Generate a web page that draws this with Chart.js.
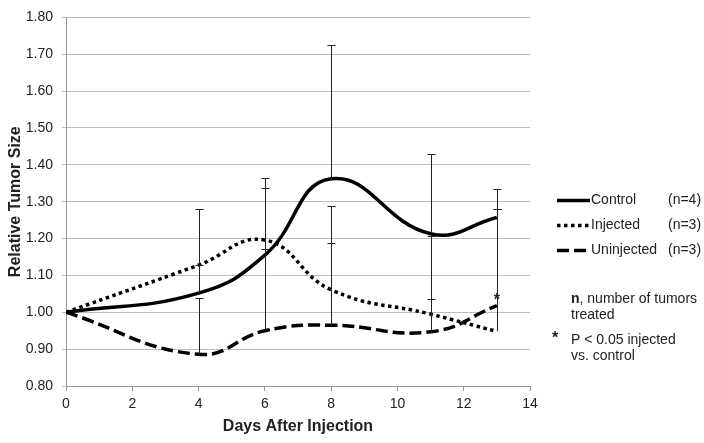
<!DOCTYPE html>
<html lang="en">
<head>
    <meta charset="UTF-8">
    <title>Relative Tumor Size</title>
    <style>
        html, body { margin: 0; padding: 0; background: #fff; }
        #wrap { width: 704px; height: 443px; }
    </style>
</head>
<body>
<div id="wrap">
    <canvas id="chart" width="704" height="443"></canvas>
</div>

<script src="https://cdn.jsdelivr.net/npm/chart.js@4/dist/chart.umd.min.js"></script>
<script>
    // days measured
    const days = [0, 4, 6, 8, 11, 13]

    // mean relative tumor size per group
    const control = [1.00, 1.052, 1.155, 1.362, 1.213, 1.257]
    const injected = [1.00, 1.128, 1.196, 1.061, 0.995, 0.948]
    const uninjected = [1.00, 0.886, 0.950, 0.965, 0.947, 1.018]

    // upper error bar lengths (null = none)
    const controlErr = [null, 0.228, 0.208, 0.364, 0.216, 0.078]
    const injectedErr = [null, 0.000, 0.142, 0.228, 0.211, 0.332]
    const uninjectedErr = [null, 0.152, 0.222, 0.222, 0.088, 0.262]

    const seriesNames = ['Control', 'Injected', 'Uninjected']
    const seriesN = ['(n=4)', '(n=3)', '(n=3)']
    const starDays = [13]

    const xTicks = [0, 2, 4, 6, 8, 10, 12, 14]
    const yTicks = ['0.80', '0.90', '1.00', '1.10', '1.20', '1.30', '1.40', '1.50', '1.60', '1.70', '1.80']

    const FONT = '"Liberation Sans", Arial, sans-serif'
    const TEXT = '#222'

    function points(values) {
        return days.map((d, i) => ({x: d, y: values[i]}))
    }

    const errors = [controlErr, injectedErr, uninjectedErr]

    const errorBars = {
        id: 'errorBars',
        afterDatasetsDraw(chart) {
            const {ctx, scales: {x, y}} = chart
            ctx.save()
            ctx.strokeStyle = '#222'
            ctx.lineWidth = 1
            errors.forEach((errs, s) => {
                const values = chart.data.datasets[s].data
                errs.forEach((e, i) => {
                    if (e === null) return
                    const px = Math.round(x.getPixelForValue(values[i].x)) + 0.5
                    const y0 = y.getPixelForValue(values[i].y)
                    const y1 = Math.round(y.getPixelForValue(values[i].y + e)) + 0.5
                    ctx.beginPath()
                    ctx.moveTo(px, y0)
                    ctx.lineTo(px, y1)
                    ctx.moveTo(px - 4, y1)
                    ctx.lineTo(px + 4, y1)
                    ctx.stroke()
                })
            })
            // significance star over the uninjected line
            ctx.fillStyle = TEXT
            ctx.font = 'bold 16px ' + FONT
            ctx.textAlign = 'center'
            ctx.textBaseline = 'middle'
            starDays.forEach(d => {
                const i = days.indexOf(d)
                ctx.fillText('*', x.getPixelForValue(d), y.getPixelForValue(uninjected[i]) - 5)
            })
            ctx.restore()
        }
    }

    const sideLegend = {
        id: 'sideLegend',
        afterDraw(chart) {
            const ctx = chart.ctx
            const rows = [200.5, 225.5, 250.5]
            ctx.save()
            chart.data.datasets.forEach((ds, i) => {
                const yy = rows[i]
                ctx.beginPath()
                ctx.strokeStyle = ds.borderColor
                ctx.lineWidth = ds.borderWidth
                ctx.setLineDash(ds.borderDash || [])
                ctx.moveTo(557, yy)
                ctx.lineTo(590, yy)
                ctx.stroke()
                ctx.setLineDash([])
                ctx.fillStyle = TEXT
                ctx.font = '14px ' + FONT
                ctx.textAlign = 'left'
                ctx.textBaseline = 'middle'
                ctx.fillText(seriesNames[i], 591, yy)
                ctx.fillText(seriesN[i], 668, yy)
            })

            ctx.fillStyle = TEXT
            ctx.textBaseline = 'middle'
            ctx.font = 'bold 14px ' + FONT
            ctx.fillText('n', 571, 299)
            const w = ctx.measureText('n').width
            ctx.font = '14px ' + FONT
            ctx.fillText(', number of tumors', 571 + w, 299)
            ctx.fillText('treated', 571, 315)

            ctx.font = 'bold 16px ' + FONT
            ctx.fillText('*', 552, 339)
            ctx.font = '14px ' + FONT
            ctx.fillText('P < 0.05 injected', 571, 340)
            ctx.fillText('vs. control', 571, 356)
            ctx.restore()
        }
    }

    const ctx = document.getElementById('chart').getContext('2d')
    const chart = new Chart(ctx, {
        type: 'line',
        data: {
            datasets: [
                {
                    label: seriesNames[0],
                    data: points(control),
                    borderColor: '#000',
                    borderWidth: 3.5,
                },
                {
                    label: seriesNames[1],
                    data: points(injected),
                    borderColor: '#000',
                    borderWidth: 3.5,
                    borderDash: [3.5, 3.5],
                },
                {
                    label: seriesNames[2],
                    data: points(uninjected),
                    borderColor: '#000',
                    borderWidth: 3.5,
                    borderDash: [12, 5],
                },
            ],
        },
        options: {
            responsive: false,
            animation: false,
            events: [],
            elements: {
                line: {tension: 0.45, fill: false, borderCapStyle: 'butt'},
                point: {radius: 0},
            },
            layout: {
                padding: {left: 0, top: 11, right: 174, bottom: 0},
            },
            plugins: {
                legend: {display: false},
                tooltip: {enabled: false},
            },
            scales: {
                x: {
                    type: 'linear',
                    min: 0,
                    max: 14,
                    afterFit: scale => { scale.height = 57 },
                    afterBuildTicks: scale => { scale.ticks = xTicks.map(v => ({value: v})) },
                    ticks: {
                        padding: 5,
                        color: TEXT,
                        font: {family: FONT, size: 14},
                        callback: v => String(v),
                    },
                    grid: {
                        drawOnChartArea: false,
                        drawTicks: true,
                        tickLength: 5,
                        color: '#999',
                    },
                    border: {color: '#999'},
                    title: {
                        display: true,
                        text: 'Days After Injection',
                        color: TEXT,
                        font: {family: FONT, size: 16, weight: 'bold'},
                        padding: {top: 0, bottom: 7},
                    },
                },
                y: {
                    min: 0.8,
                    max: 1.8,
                    afterFit: scale => { scale.width = 66 },
                    afterBuildTicks: scale => { scale.ticks = yTicks.map(v => ({value: parseFloat(v)})) },
                    ticks: {
                        padding: 9,
                        color: TEXT,
                        font: {family: FONT, size: 14},
                        callback: (v, i) => yTicks[i],
                    },
                    grid: {
                        color: '#bdbdbd',
                        tickLength: 4,
                    },
                    border: {color: '#999'},
                    title: {
                        display: true,
                        text: 'Relative Tumor Size',
                        color: TEXT,
                        font: {family: FONT, size: 16, weight: 'bold'},
                        padding: {top: 6, bottom: 0},
                    },
                },
            },
        },
        plugins: [errorBars, sideLegend],
    })
</script>
</body>
</html>
